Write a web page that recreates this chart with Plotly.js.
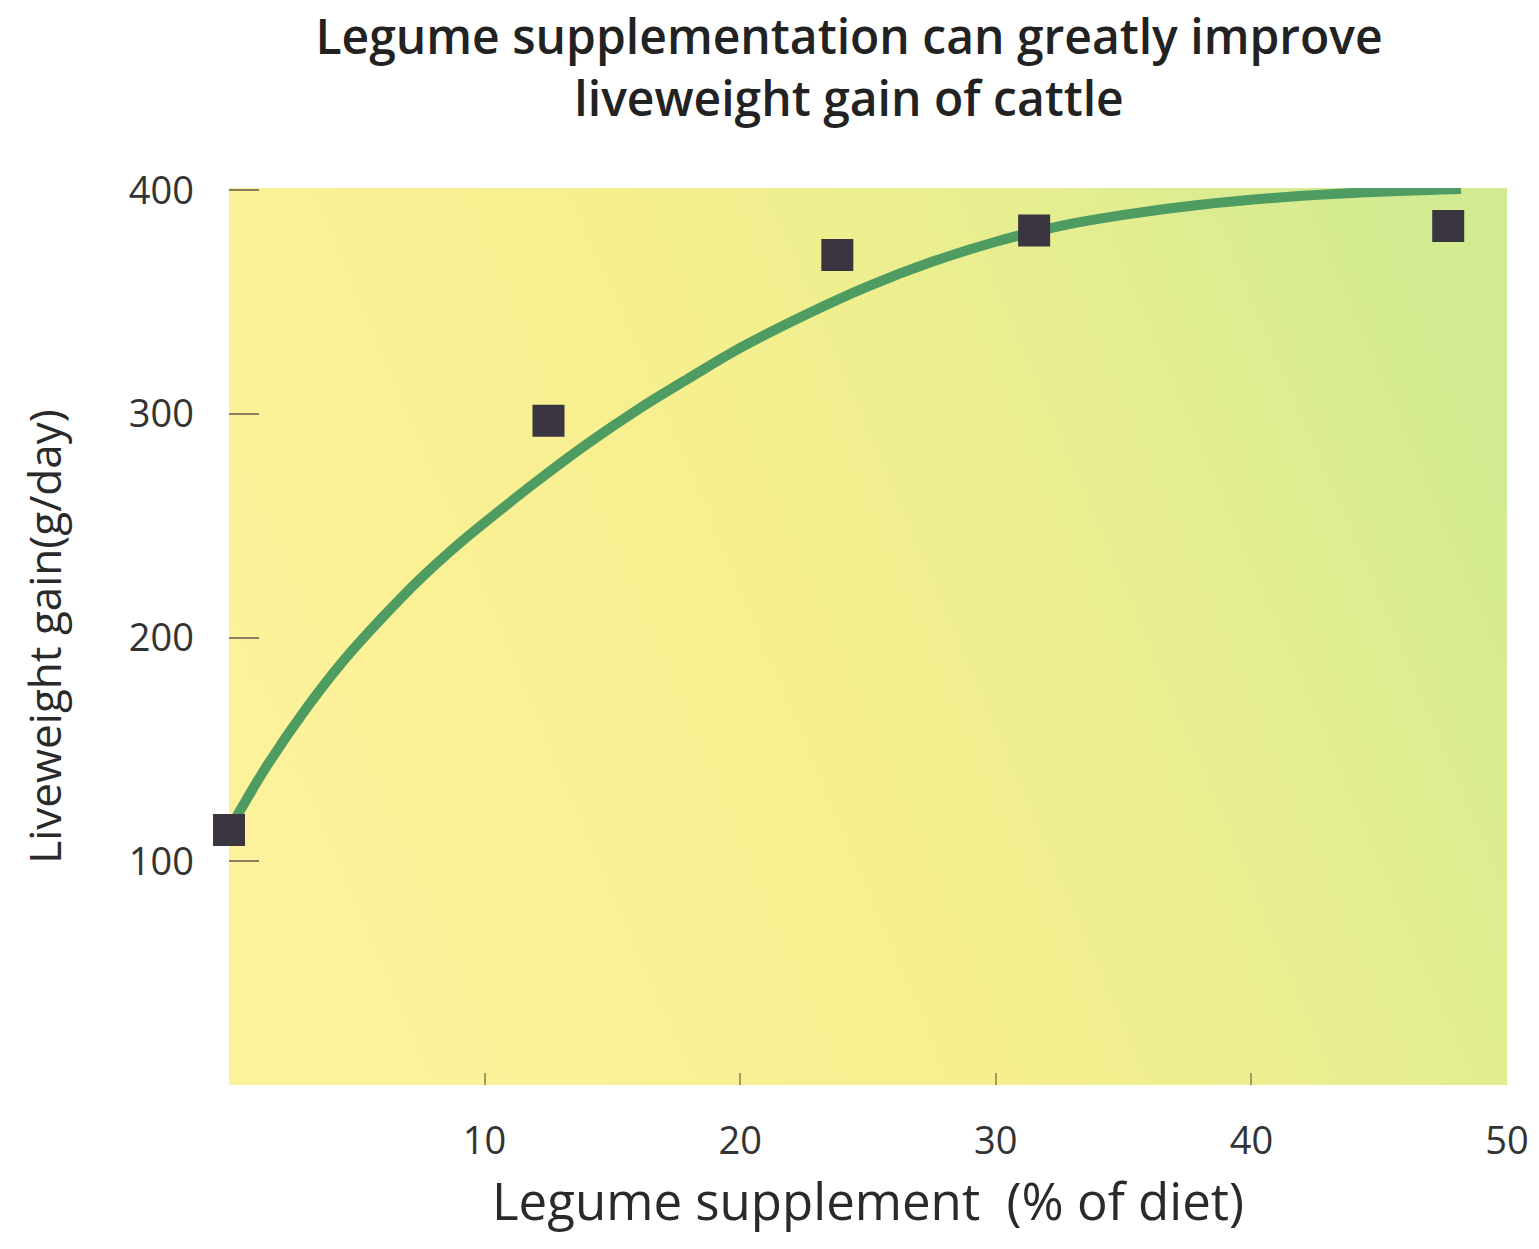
<!DOCTYPE html>
<html>
<head>
<meta charset="utf-8">
<script src="https://cdn.plot.ly/plotly-3.0.1.min.js"></script>
<style>html,body{margin:0;padding:0;background:#fff;}#chart{width:1539px;height:1249px;}</style>
</head>
<body>
<div id="chart"></div>
<script>
// Observed data points (Legume supplement % of diet vs liveweight gain g/day)
const pointX = [0, 12.5, 23.8, 31.5, 47.7];
const pointY = [114, 297, 371, 382, 384];

// Fitted response curve
const curveX = [0.2, 1.5, 3, 4.5, 6, 7.5, 9, 10.5, 12, 14, 16, 18, 20, 22.5, 25, 27.5, 30, 32.5, 35, 38, 42, 45.5, 48.2];
const curveY = [118, 143, 168, 190, 209, 226.5, 242, 256, 269.5, 286.5, 302, 316, 329.5, 344, 357, 368, 377, 384, 389, 393.5, 397.5, 399.5, 400.5];

// Tick labels
const xTicks = [10, 20, 30, 40, 50];
const yTicks = [100, 200, 300, 400];

const titleText = 'Legume supplementation can greatly improve<br>liveweight gain of cattle';
const xTitle = 'Legume supplement  (% of diet)';
const yTitle = 'Liveweight gain(g/day)';

const svg = "<svg xmlns='http://www.w3.org/2000/svg' width='100' height='100' viewBox='0 0 100 100' preserveAspectRatio='none'>" +
  "<defs><linearGradient id='g' x1='0' y1='0.65' x2='1' y2='0.35'>" +
  "<stop offset='0' stop-color='#fdf29b'/><stop offset='0.45' stop-color='#f6ef8e'/>" +
  "<stop offset='0.75' stop-color='#e6ee90'/><stop offset='1' stop-color='#d3eb90'/>" +
  "</linearGradient></defs><rect width='100' height='100' fill='url(#g)'/></svg>";
const bgSrc = 'data:image/svg+xml;charset=utf-8,' + encodeURIComponent(svg);

const tickFont = {family: '"Open Sans", sans-serif', size: 38, color: '#333'};

const traces = [
  {
    x: curveX, y: curveY, type: 'scatter', mode: 'lines',
    line: {color: '#4f9c63', width: 10, shape: 'spline', smoothing: 1},
    hoverinfo: 'skip', showlegend: false
  },
  {
    x: pointX, y: pointY, type: 'scatter', mode: 'markers',
    marker: {symbol: 'square', size: 32, color: '#3b3540', line: {width: 0}},
    cliponaxis: false, showlegend: false
  }
];

const layout = {
  width: 1539, height: 1249,
  margin: {l: 229, r: 32, t: 188, b: 164},
  paper_bgcolor: '#ffffff',
  plot_bgcolor: 'rgba(0,0,0,0)',
  title: {
    text: titleText,
    font: {family: '"Open Sans", sans-serif', size: 48, color: '#222', weight: 600},
    x: 0.5517, xanchor: 'center', xref: 'container',
    y: 0.957, yanchor: 'top', yref: 'container'
  },
  xaxis: {
    range: [0, 50], showgrid: false, zeroline: false, showline: false,
    tickmode: 'array', tickvals: xTicks, ticktext: xTicks.map(String),
    ticks: 'inside', ticklen: 12, tickwidth: 2, tickcolor: '#a89860',
    ticklabelstandoff: 30,
    tickfont: tickFont,
    title: {text: xTitle, font: {family: '"Open Sans", sans-serif', size: 51, color: '#2a2a2a'}, standoff: 20},
    automargin: false, fixedrange: true
  },
  yaxis: {
    range: [0, 401], showgrid: false, zeroline: false, showline: false,
    tickmode: 'array', tickvals: yTicks, ticktext: yTicks.map(String),
    ticks: 'inside', ticklen: 30, tickwidth: 2, tickcolor: '#8a8060',
    ticklabelstandoff: 34,
    tickfont: tickFont,
    title: {text: yTitle, font: {family: '"Open Sans", sans-serif', size: 44, color: '#2a2a2a'}, standoff: 53},
    automargin: false, fixedrange: true
  },
  images: [{
    source: bgSrc, xref: 'paper', yref: 'paper', x: 0, y: 1, sizex: 1, sizey: 1,
    xanchor: 'left', yanchor: 'top', sizing: 'stretch', layer: 'below'
  }]
};

Plotly.newPlot('chart', traces, layout, {staticPlot: true, displayModeBar: false});
</script>
</body>
</html>
